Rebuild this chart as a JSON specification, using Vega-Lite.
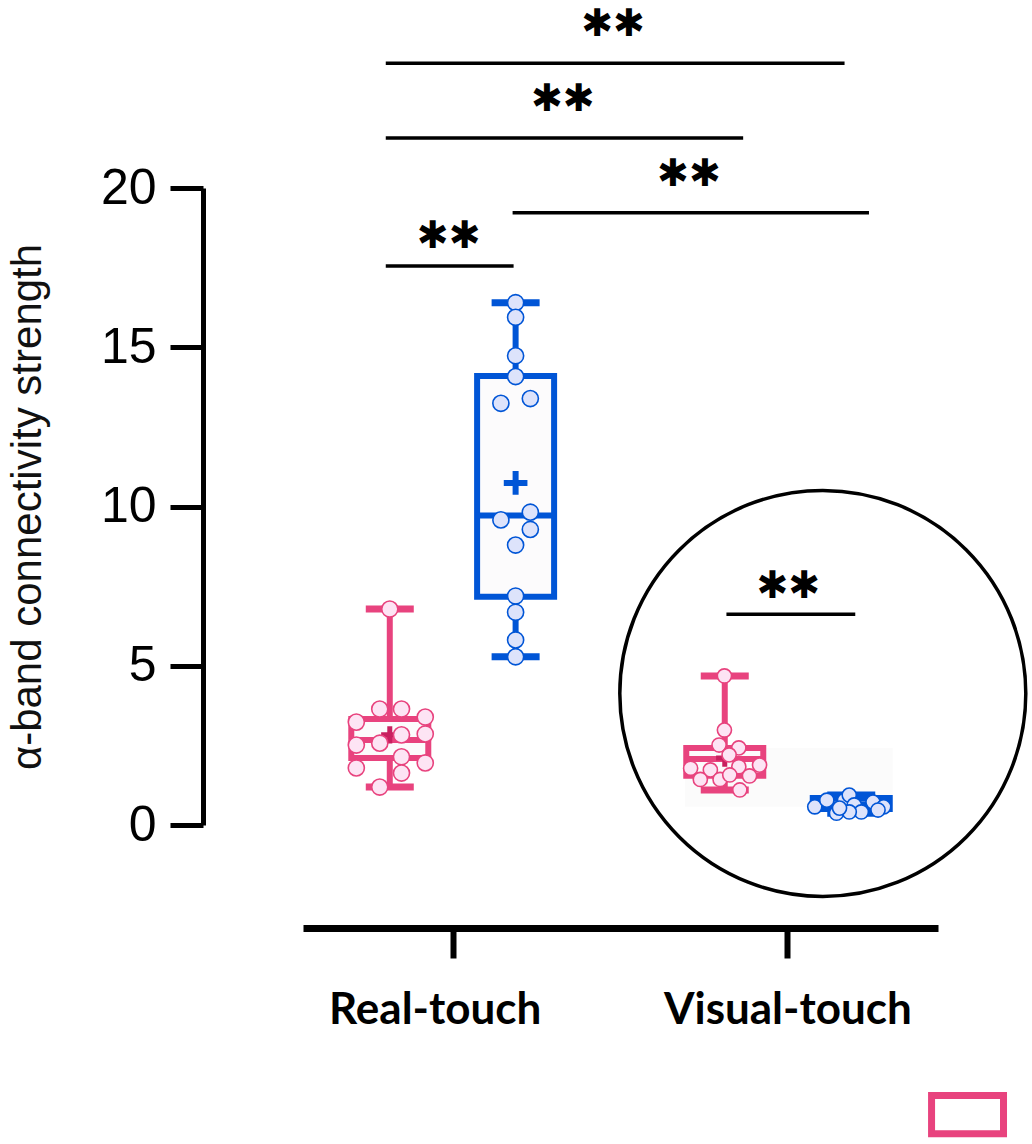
{
  "$schema": "https://vega.github.io/schema/vega-lite/v6.json",
  "width": 635,
  "height": 637,
  "autosize": {"type": "none"},
  "padding": {"left": 303, "top": 188, "right": 94, "bottom": 319},
  "background": "white",
  "config": {"view": {"stroke": null}, "axis": {"grid": false}},
  "datasets": {
    "points": [
      {"cond": "Real-touch", "group": "A", "x": 0.812, "v": 6.78},
      {"cond": "Real-touch", "group": "A", "x": 0.782, "v": 3.64},
      {"cond": "Real-touch", "group": "A", "x": 0.847, "v": 3.64},
      {"cond": "Real-touch", "group": "A", "x": 0.712, "v": 3.23},
      {"cond": "Real-touch", "group": "A", "x": 0.918, "v": 3.39},
      {"cond": "Real-touch", "group": "A", "x": 0.847, "v": 2.83},
      {"cond": "Real-touch", "group": "A", "x": 0.918, "v": 2.86},
      {"cond": "Real-touch", "group": "A", "x": 0.782, "v": 2.57},
      {"cond": "Real-touch", "group": "A", "x": 0.712, "v": 2.51},
      {"cond": "Real-touch", "group": "A", "x": 0.847, "v": 2.14},
      {"cond": "Real-touch", "group": "A", "x": 0.918, "v": 1.95},
      {"cond": "Real-touch", "group": "A", "x": 0.712, "v": 1.79},
      {"cond": "Real-touch", "group": "A", "x": 0.847, "v": 1.63},
      {"cond": "Real-touch", "group": "A", "x": 0.782, "v": 1.19},
      {"cond": "Real-touch", "group": "B", "x": 1.188, "v": 16.4},
      {"cond": "Real-touch", "group": "B", "x": 1.188, "v": 15.94},
      {"cond": "Real-touch", "group": "B", "x": 1.188, "v": 14.73},
      {"cond": "Real-touch", "group": "B", "x": 1.188, "v": 14.08},
      {"cond": "Real-touch", "group": "B", "x": 1.144, "v": 13.24},
      {"cond": "Real-touch", "group": "B", "x": 1.232, "v": 13.39},
      {"cond": "Real-touch", "group": "B", "x": 1.144, "v": 9.58},
      {"cond": "Real-touch", "group": "B", "x": 1.232, "v": 9.82},
      {"cond": "Real-touch", "group": "B", "x": 1.232, "v": 9.28},
      {"cond": "Real-touch", "group": "B", "x": 1.188, "v": 8.79},
      {"cond": "Real-touch", "group": "B", "x": 1.188, "v": 7.19},
      {"cond": "Real-touch", "group": "B", "x": 1.188, "v": 6.68},
      {"cond": "Real-touch", "group": "B", "x": 1.188, "v": 5.81},
      {"cond": "Real-touch", "group": "B", "x": 1.188, "v": 5.28},
      {"cond": "Visual-touch", "group": "A", "x": 1.812, "v": 4.68},
      {"cond": "Visual-touch", "group": "A", "x": 1.812, "v": 2.98},
      {"cond": "Visual-touch", "group": "A", "x": 1.796, "v": 2.51},
      {"cond": "Visual-touch", "group": "A", "x": 1.855, "v": 2.42},
      {"cond": "Visual-touch", "group": "A", "x": 1.826, "v": 2.2},
      {"cond": "Visual-touch", "group": "A", "x": 1.711, "v": 1.78},
      {"cond": "Visual-touch", "group": "A", "x": 1.77, "v": 1.73},
      {"cond": "Visual-touch", "group": "A", "x": 1.855, "v": 1.83},
      {"cond": "Visual-touch", "group": "A", "x": 1.917, "v": 1.88},
      {"cond": "Visual-touch", "group": "A", "x": 1.74, "v": 1.43},
      {"cond": "Visual-touch", "group": "A", "x": 1.799, "v": 1.43},
      {"cond": "Visual-touch", "group": "A", "x": 1.887, "v": 1.54},
      {"cond": "Visual-touch", "group": "A", "x": 1.828, "v": 1.57},
      {"cond": "Visual-touch", "group": "A", "x": 1.858, "v": 1.1},
      {"cond": "Visual-touch", "group": "B", "x": 2.082, "v": 0.57},
      {"cond": "Visual-touch", "group": "B", "x": 2.118, "v": 0.78},
      {"cond": "Visual-touch", "group": "B", "x": 2.147, "v": 0.37},
      {"cond": "Visual-touch", "group": "B", "x": 2.171, "v": 0.78},
      {"cond": "Visual-touch", "group": "B", "x": 2.185, "v": 0.94},
      {"cond": "Visual-touch", "group": "B", "x": 2.2, "v": 0.63},
      {"cond": "Visual-touch", "group": "B", "x": 2.221, "v": 0.41},
      {"cond": "Visual-touch", "group": "B", "x": 2.185, "v": 0.41},
      {"cond": "Visual-touch", "group": "B", "x": 2.256, "v": 0.72},
      {"cond": "Visual-touch", "group": "B", "x": 2.288, "v": 0.57},
      {"cond": "Visual-touch", "group": "B", "x": 2.271, "v": 0.47},
      {"cond": "Visual-touch", "group": "B", "x": 2.156, "v": 0.53}
    ],
    "boxes": [
      {"cond": "Real-touch", "group": "A", "x": 0.812, "lo": 1.19, "q1": 2.1, "med": 2.67, "q3": 3.33, "hi": 6.78, "mean": 2.83},
      {"cond": "Real-touch", "group": "B", "x": 1.188, "lo": 5.28, "q1": 7.17, "med": 9.72, "q3": 14.1, "hi": 16.4, "mean": 10.74},
      {"cond": "Visual-touch", "group": "A", "x": 1.813, "lo": 1.1, "q1": 1.55, "med": 2.07, "q3": 2.42, "hi": 4.68, "mean": 2.1},
      {"cond": "Visual-touch", "group": "B", "x": 2.191, "lo": 0.37, "q1": 0.5, "med": 0.65, "q3": 0.85, "hi": 0.94, "mean": 0.63}
    ],
    "sig": [
      {"x1": 0.8, "x2": 2.171, "y": 23.92, "xt": 1.479, "yt": 25.12, "label": "✱✱"},
      {"x1": 0.8, "x2": 1.868, "y": 21.57, "xt": 1.329, "yt": 22.76, "label": "✱✱"},
      {"x1": 1.179, "x2": 2.244, "y": 19.22, "xt": 1.706, "yt": 20.41, "label": "✱✱"},
      {"x1": 0.8, "x2": 1.182, "y": 17.55, "xt": 0.988, "yt": 18.46, "label": "✱✱"},
      {"x1": 1.818, "x2": 2.203, "y": 6.62, "xt": 2.003, "yt": 7.47, "label": "✱✱"}
    ],
    "inset": [
      {"cx": 2.106, "cy": 4.13, "bx1": 1.694, "bx2": 2.315, "by1": 0.57, "by2": 2.42}
    ],
    "legendbox": [
      {"x1": 2.431, "x2": 2.646, "y1": -8.49, "y2": -9.69}
    ]
  },
  "layer": [
    {
      "data": {"name": "inset"},
      "mark": {"type": "rect", "fill": "#fbfbfb"},
      "encoding": {
        "x": {"field": "bx1", "type": "quantitative", "scale": {"domain": [0.5676, 2.4353], "nice": false, "zero": false},
          "axis": {"values": [1, 2], "labelExpr": "datum.value == 1 ? 'Real-touch' : 'Visual-touch'", "offset": 103, "grid": false,
            "domainColor": "black", "domainWidth": 7, "domainCap": "butt", "tickColor": "black", "tickWidth": 6, "tickSize": 30,
            "labelFont": "Lato", "labelFontWeight": "bold", "labelFontSize": 44, "labelColor": "black", "labelPadding": 30, "labelFlush": false,
            "labelLimit": 500, "labelOverlap": false, "title": "",
            "labelOffset": {"condition": {"test": "datum.value == 1", "value": -18}, "value": 0}}},
        "x2": {"field": "bx2"},
        "y": {"field": "by1", "type": "quantitative", "scale": {"domain": [0, 20], "nice": false, "zero": false},
          "axis": {"values": [0, 5, 10, 15, 20], "offset": 100, "grid": false,
            "domainColor": "black", "domainWidth": 5, "tickColor": "black", "tickWidth": 5, "tickSize": 33,
            "labelFont": "Liberation Sans", "labelFontSize": 50, "labelColor": "black", "labelPadding": 14,
            "title": "α-band connectivity strength", "titleFont": "Liberation Sans", "titleFontSize": 42, "titleFontWeight": "normal",
            "titleColor": "#111111", "titlePadding": 51}},
        "y2": {"field": "by2"}
      }
    },
    {
      "data": {"name": "inset"},
      "mark": {"type": "point", "shape": "circle", "filled": false, "stroke": "black", "strokeWidth": 3.5, "size": 164836, "opacity": 1},
      "encoding": {
        "x": {"field": "cx", "type": "quantitative", "scale": {"domain": [0.5676, 2.4353], "nice": false, "zero": false}},
        "y": {"field": "cy", "type": "quantitative", "scale": {"domain": [0, 20], "nice": false, "zero": false}}
      }
    },
    {
      "data": {"name": "boxes"},
      "mark": {"type": "rule", "strokeWidth": 6},
      "encoding": {
        "x": {"field": "x", "type": "quantitative", "scale": {"domain": [0.5676, 2.4353], "nice": false, "zero": false}},
        "y": {"field": "lo", "type": "quantitative", "scale": {"domain": [0, 20], "nice": false, "zero": false}},
        "y2": {"field": "hi"},
        "stroke": {"field": "group", "type": "nominal", "scale": {"domain": ["A", "B"], "range": ["#e8437e", "#0055d6"]}, "legend": null}
      }
    },
    {
      "data": {"name": "boxes"},
      "transform": [{"fold": ["lo", "hi"], "as": ["which", "capv"]}],
      "mark": {"type": "tick", "orient": "horizontal", "size": 48, "thickness": 7, "opacity": 1},
      "encoding": {
        "x": {"field": "x", "type": "quantitative", "scale": {"domain": [0.5676, 2.4353], "nice": false, "zero": false}},
        "y": {"field": "capv", "type": "quantitative", "scale": {"domain": [0, 20], "nice": false, "zero": false}},
        "color": {"field": "group", "type": "nominal", "scale": {"domain": ["A", "B"], "range": ["#e8437e", "#0055d6"]}, "legend": null}
      }
    },
    {
      "data": {"name": "boxes"},
      "mark": {"type": "bar", "width": 77, "fill": "#fcfbfc", "strokeWidth": 6},
      "encoding": {
        "x": {"field": "x", "type": "quantitative", "scale": {"domain": [0.5676, 2.4353], "nice": false, "zero": false}},
        "y": {"field": "q1", "type": "quantitative", "scale": {"domain": [0, 20], "nice": false, "zero": false}},
        "y2": {"field": "q3"},
        "stroke": {"field": "group", "type": "nominal", "scale": {"domain": ["A", "B"], "range": ["#e8437e", "#0055d6"]}, "legend": null}
      }
    },
    {
      "data": {"name": "boxes"},
      "mark": {"type": "tick", "orient": "horizontal", "size": 80, "thickness": 6, "opacity": 1},
      "encoding": {
        "x": {"field": "x", "type": "quantitative", "scale": {"domain": [0.5676, 2.4353], "nice": false, "zero": false}},
        "y": {"field": "med", "type": "quantitative", "scale": {"domain": [0, 20], "nice": false, "zero": false}},
        "color": {"field": "group", "type": "nominal", "scale": {"domain": ["A", "B"], "range": ["#e8437e", "#0055d6"]}, "legend": null}
      }
    },
    {
      "data": {"name": "boxes"},
      "transform": [{"filter": "datum.group == 'A'"}],
      "mark": {"type": "point", "shape": "M-1,0H1M0,-1V1", "filled": false, "strokeWidth": 5, "opacity": 1, "size": 300, "stroke": "#c8205f"},
      "encoding": {
        "x": {"field": "x", "type": "quantitative", "scale": {"domain": [0.5676, 2.4353], "nice": false, "zero": false}},
        "y": {"field": "mean", "type": "quantitative", "scale": {"domain": [0, 20], "nice": false, "zero": false}}
      }
    },
    {
      "data": {"name": "boxes"},
      "transform": [{"filter": "datum.group == 'B' && datum.cond == 'Real-touch'"}],
      "mark": {"type": "point", "shape": "M-1,0H1M0,-1V1", "filled": false, "strokeWidth": 6, "opacity": 1, "size": 560, "stroke": "#0055d6"},
      "encoding": {
        "x": {"field": "x", "type": "quantitative", "scale": {"domain": [0.5676, 2.4353], "nice": false, "zero": false}},
        "y": {"field": "mean", "type": "quantitative", "scale": {"domain": [0, 20], "nice": false, "zero": false}}
      }
    },
    {
      "data": {"name": "points"},
      "transform": [{"filter": "datum.cond == 'Real-touch'"}],
      "mark": {"type": "point", "shape": "circle", "filled": true, "strokeWidth": 1.6, "opacity": 1, "size": 260},
      "encoding": {
        "x": {"field": "x", "type": "quantitative", "scale": {"domain": [0.5676, 2.4353], "nice": false, "zero": false}},
        "y": {"field": "v", "type": "quantitative", "scale": {"domain": [0, 20], "nice": false, "zero": false}},
        "fill": {"field": "group", "type": "nominal", "scale": {"domain": ["A", "B"], "range": ["#fde4f4", "#dde3fb"]}, "legend": null},
        "stroke": {"field": "group", "type": "nominal", "scale": {"domain": ["A", "B"], "range": ["#e8437e", "#0055d6"]}, "legend": null}
      }
    },
    {
      "data": {"name": "points"},
      "transform": [{"filter": "datum.cond == 'Visual-touch'"}],
      "mark": {"type": "point", "shape": "circle", "filled": true, "strokeWidth": 1.6, "opacity": 1, "size": 200},
      "encoding": {
        "x": {"field": "x", "type": "quantitative", "scale": {"domain": [0.5676, 2.4353], "nice": false, "zero": false}},
        "y": {"field": "v", "type": "quantitative", "scale": {"domain": [0, 20], "nice": false, "zero": false}},
        "fill": {"field": "group", "type": "nominal", "scale": {"domain": ["A", "B"], "range": ["#fde4f4", "#dde3fb"]}, "legend": null},
        "stroke": {"field": "group", "type": "nominal", "scale": {"domain": ["A", "B"], "range": ["#e8437e", "#0055d6"]}, "legend": null}
      }
    },
    {
      "data": {"name": "sig"},
      "mark": {"type": "rule", "stroke": "black", "strokeWidth": 3.5},
      "encoding": {
        "x": {"field": "x1", "type": "quantitative", "scale": {"domain": [0.5676, 2.4353], "nice": false, "zero": false}},
        "x2": {"field": "x2"},
        "y": {"field": "y", "type": "quantitative", "scale": {"domain": [0, 20], "nice": false, "zero": false}}
      }
    },
    {
      "data": {"name": "sig"},
      "mark": {"type": "text", "font": "DejaVu Sans", "fontSize": 38, "align": "center", "baseline": "middle", "fill": "black"},
      "encoding": {
        "x": {"field": "xt", "type": "quantitative", "scale": {"domain": [0.5676, 2.4353], "nice": false, "zero": false}},
        "y": {"field": "yt", "type": "quantitative", "scale": {"domain": [0, 20], "nice": false, "zero": false}},
        "text": {"field": "label"}
      }
    },
    {
      "data": {"name": "legendbox"},
      "mark": {"type": "rect", "fill": null, "stroke": "#e8437e", "strokeWidth": 7},
      "encoding": {
        "x": {"field": "x1", "type": "quantitative", "scale": {"domain": [0.5676, 2.4353], "nice": false, "zero": false}},
        "x2": {"field": "x2"},
        "y": {"field": "y1", "type": "quantitative", "scale": {"domain": [0, 20], "nice": false, "zero": false}},
        "y2": {"field": "y2"}
      }
    }
  ]
}
